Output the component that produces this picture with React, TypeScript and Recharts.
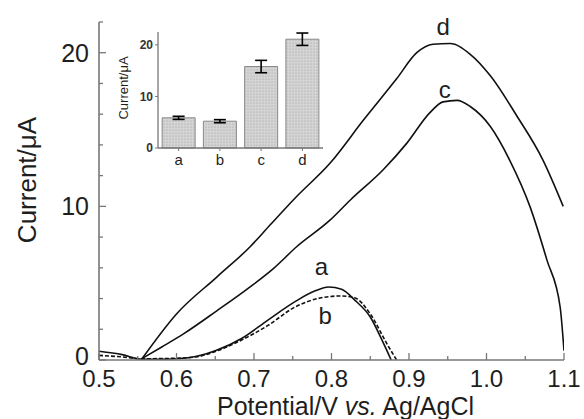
import React from 'react';
import { LineChart, Line, XAxis, YAxis, ReferenceDot, BarChart, Bar, ErrorBar } from 'recharts';

// DPV curves: potential (V) and current (uA)
const potA = [0.5, 0.53, 0.555, 0.58, 0.615, 0.65, 0.684, 0.718, 0.753, 0.779, 0.796, 0.813, 0.83, 0.85, 0.867, 0.877];
const curA = [0.57, 0.35, 0.05, 0.05, 0.15, 0.6, 1.4, 2.6, 3.8, 4.5, 4.75, 4.6, 3.9, 2.8, 1.1, 0.0];

const potB = [0.5, 0.53, 0.555, 0.59, 0.625, 0.65, 0.684, 0.718, 0.753, 0.787, 0.813, 0.83, 0.85, 0.871, 0.884];
const curB = [0.3, 0.2, 0.08, 0.1, 0.2, 0.55, 1.3, 2.25, 3.45, 4.05, 4.17, 4.05, 3.0, 1.1, 0.0];

const potC = [0.555, 0.581, 0.609, 0.652, 0.695, 0.725, 0.755, 0.798, 0.824, 0.867, 0.897, 0.927, 0.944, 0.962, 0.979, 1.005, 1.03, 1.056, 1.078, 1.095, 1.1];
const curC = [0.08, 0.85, 1.7, 3.2, 4.76, 5.95, 7.37, 9.1, 10.4, 12.4, 14.1, 16.1, 16.8, 16.9, 16.5, 15.2, 13.0, 10.0, 6.5, 3.45, 0.6];

const potD = [0.555, 0.6, 0.652, 0.695, 0.721, 0.755, 0.798, 0.841, 0.884, 0.91, 0.931, 0.953, 0.979, 1.005, 1.039, 1.073, 1.099];
const curD = [0.05, 3.0, 5.4, 7.37, 8.8, 10.64, 12.8, 15.6, 18.3, 20.0, 20.55, 20.6, 19.9, 18.5, 15.9, 13.0, 10.0];

const xTicks = [0.5, 0.55, 0.6, 0.65, 0.7, 0.75, 0.8, 0.85, 0.9, 0.95, 1.0, 1.05, 1.1];
const xMajor = [0.5, 0.6, 0.7, 0.8, 0.9, 1.0, 1.1];
const yTicks = [0, 2, 4, 6, 8, 10, 12, 14, 16, 18, 20, 22];
const yMajor = [0, 10, 20];

// inset: peak currents
const insetCats = ['a', 'b', 'c', 'd'];
const insetVals = [5.85, 5.2, 15.8, 21.1];
const insetErrs = [0.3, 0.3, 1.2, 1.2];
const insetTicks = [0, 10, 20];

const FONT = '"Liberation Sans", Arial, sans-serif';
const INK = '#1e1e1e';
const AXIS = '#777';

const toPoints = (xs: number[], ys: number[]) => xs.map((x, i) => ({ x, y: ys[i] }));
const isMajor = (v: number, list: number[]) => list.some((m) => Math.abs(m - v) < 1e-6);

const XTick = (props: any) => {
  const { x, y, payload } = props;
  const major = isMajor(payload.value, xMajor);
  return (
    <g>
      <line x1={x} y1={y} x2={x} y2={y - (major ? 7 : 4)} stroke={AXIS} strokeWidth={1.3} />
      {major && (
        <text x={x} y={y + 27} textAnchor="middle" fontSize={24} fill={INK} fontFamily={FONT}>
          {payload.value.toFixed(1)}
        </text>
      )}
    </g>
  );
};

const YTick = (props: any) => {
  const { x, y, payload } = props;
  const major = isMajor(payload.value, yMajor);
  // the "0" sits a little high so it clears the 0.5 below it
  const dy = payload.value === 0 ? 5 : 9;
  return (
    <g>
      <line x1={x} y1={y} x2={x + (major ? 7 : 4)} y2={y} stroke={AXIS} strokeWidth={1.3} />
      {major && (
        <text x={x - 10} y={y + dy} textAnchor="end" fontSize={25} fill={INK} fontFamily={FONT}>
          {payload.value}
        </text>
      )}
    </g>
  );
};

const curveLabel = (text: string) => ({ value: text, position: 'center' as const, fontSize: 24, fill: INK, fontFamily: FONT });

const App = () => {
  const insetData = insetCats.map((c, i) => ({ cat: c, val: insetVals[i], err: insetErrs[i] }));

  return (
    <div style={{ position: 'absolute', left: 0, top: 0, width: 584, height: 419, background: '#fff' }}>
      <LineChart width={584} height={419} margin={{ top: 22, right: 20, left: 0, bottom: 0 }}>
        <XAxis
          dataKey="x"
          type="number"
          domain={[0.5, 1.1]}
          ticks={xTicks}
          interval={0}
          allowDataOverflow
          height={59}
          tickSize={0}
          tickMargin={0}
          tickLine={false}
          axisLine={{ stroke: AXIS, strokeWidth: 1.6 }}
          tick={<XTick />}
          label={(p: any) => {
            const vb = p.viewBox || { x: 99, width: 465 };
            return (
              <text x={vb.x + vb.width / 2 + 14} y={415} textAnchor="middle" fontSize={25} fill={INK} fontFamily={FONT}>
                Potential/V <tspan fontStyle="italic">vs.</tspan> Ag/AgCl
              </text>
            );
          }}
        />
        <YAxis
          type="number"
          domain={[0, 22]}
          ticks={yTicks}
          interval={0}
          allowDataOverflow
          width={99}
          tickSize={0}
          tickMargin={0}
          tickLine={false}
          axisLine={{ stroke: AXIS, strokeWidth: 1.6 }}
          tick={<YTick />}
          label={() => (
            <text transform="translate(27, 180) rotate(-90)" textAnchor="middle" dominantBaseline="central" fontSize={26} fill={INK} fontFamily={FONT}>
              Current/μA
            </text>
          )}
        />
        <Line data={toPoints(potA, curA)} dataKey="y" type="monotone" stroke="#111" strokeWidth={1.6} dot={false} isAnimationActive={false} />
        <Line data={toPoints(potB, curB)} dataKey="y" type="monotone" stroke="#111" strokeWidth={1.6} strokeDasharray="4 2" dot={false} isAnimationActive={false} />
        <Line data={toPoints(potC, curC)} dataKey="y" type="monotone" stroke="#111" strokeWidth={1.6} dot={false} isAnimationActive={false} />
        <Line data={toPoints(potD, curD)} dataKey="y" type="monotone" stroke="#111" strokeWidth={1.6} dot={false} isAnimationActive={false} />
        <ReferenceDot x={0.944} y={21.7} r={0} fill="none" stroke="none" label={curveLabel('d')} />
        <ReferenceDot x={0.946} y={17.6} r={0} fill="none" stroke="none" label={curveLabel('c')} />
        <ReferenceDot x={0.787} y={6.1} r={0} fill="none" stroke="none" label={curveLabel('a')} />
        <ReferenceDot x={0.792} y={2.9} r={0} fill="none" stroke="none" label={curveLabel('b')} />
      </LineChart>

      <div style={{ position: 'absolute', left: 100, top: 0 }}>
        <BarChart width={240} height={175} data={insetData} margin={{ top: 32, right: 17, left: 0, bottom: 0 }} barCategoryGap="10%">
          <defs>
            <pattern id="speckle" width="3" height="3" patternUnits="userSpaceOnUse">
              <rect width="3" height="3" fill="#d4d4d4" />
              <circle cx="1" cy="1" r="0.6" fill="#9e9e9e" />
            </pattern>
          </defs>
          <XAxis
            dataKey="cat"
            height={27}
            tickSize={3}
            tickMargin={3}
            tickLine={{ stroke: AXIS }}
            axisLine={{ stroke: AXIS, strokeWidth: 1.3 }}
            tick={{ fontSize: 15, fill: INK, fontFamily: FONT }}
          />
          <YAxis
            type="number"
            domain={[0, 22.5]}
            ticks={insetTicks}
            width={58}
            tickSize={3}
            tickMargin={2}
            tickLine={{ stroke: AXIS }}
            axisLine={{ stroke: AXIS, strokeWidth: 1.3 }}
            tick={{ fontSize: 12, fontWeight: 'bold', fill: '#333', fontFamily: FONT }}
            label={() => (
              <text transform="translate(23, 88) rotate(-90)" textAnchor="middle" dominantBaseline="central" fontSize={13} fill={INK} fontFamily={FONT}>
                Current/μA
              </text>
            )}
          />
          <Bar dataKey="val" fill="url(#speckle)" stroke="#888" strokeWidth={1} isAnimationActive={false}>
            <ErrorBar dataKey="err" width={6} strokeWidth={1.6} stroke="#000" />
          </Bar>
        </BarChart>
      </div>
    </div>
  );
};

export default App;
